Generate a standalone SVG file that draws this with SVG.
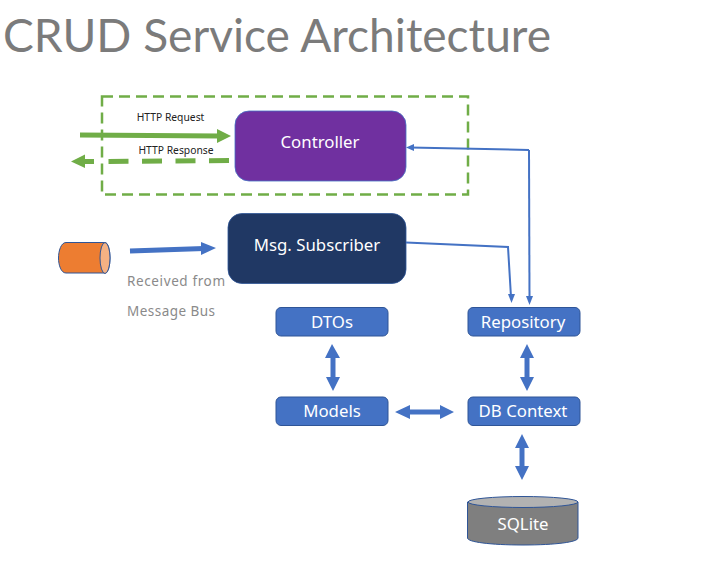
<svg xmlns="http://www.w3.org/2000/svg" width="705" height="566" viewBox="0 0 705 566">
<style>
text{font-family:"Noto Sans","Open Sans","DejaVu Sans",sans-serif}
.title{font-family:Lato,"Noto Sans",sans-serif;font-size:47px;fill:#7b7b7b}
.lbl{fill:#fff;font-size:16.800px;text-anchor:middle}
.small{fill:#222;font-size:10.300px;text-anchor:middle}
.note{fill:#8a8a8a;font-size:13.500px}
.box{fill:#4472c4;stroke:#2f5597;stroke-width:1}
.thin{fill:none;stroke:#4472c4;stroke-width:2}
.thick{fill:none;stroke:#4472c4;stroke-width:5}
.fill{fill:#4472c4}
.g{fill:#70ad47}
.gl{fill:none;stroke:#70ad47;stroke-width:5}
</style>
<rect width="705" height="566" fill="#fff"/>
<text class="title" x="3" y="52" textLength="548" lengthAdjust="spacingAndGlyphs">CRUD Service Architecture</text>
<g id="boundary"><rect x="102" y="96.500" width="366" height="98" fill="none" stroke="#70ad47" stroke-width="2.500" stroke-dasharray="11 6"/></g>
<g id="controller"><rect x="235" y="111" width="171" height="70" rx="14" fill="#7030a0" stroke="#4472c4" stroke-width="0.800"/><text class="lbl" x="320" y="147.500">Controller</text></g>
<g id="subscriber"><rect x="228" y="213.500" width="178" height="70" rx="14" fill="#203864" stroke="#2f5597" stroke-width="0.800"/><text class="lbl" x="317" y="250.500">Msg. Subscriber</text></g>
<g id="bus"><path d="M66 242.500H105C108 242.500 110 250 110 258S108 273 105 273H66C61 273 58.500 265 58.500 258S61 242.500 66 242.500Z" fill="#ed7d31" stroke="#2f5597" stroke-width="1"/><ellipse cx="105" cy="258" rx="5" ry="15.500" fill="#f4b183" stroke="#2f5597" stroke-width="1"/></g>
<g id="dtos"><rect class="box" x="276" y="307.500" width="112" height="28.500" rx="5"/><text class="lbl" x="332" y="327.500">DTOs</text></g>
<g id="repository"><rect class="box" x="468" y="307.500" width="112" height="28.500" rx="5"/><text class="lbl" x="523" y="327.500">Repository</text></g>
<g id="models"><rect class="box" x="276" y="397" width="112" height="28.500" rx="5"/><text class="lbl" x="332" y="417">Models</text></g>
<g id="dbcontext"><rect class="box" x="468" y="397" width="112" height="28.500" rx="5"/><text class="lbl" x="523" y="417">DB Context</text></g>
<g id="sqlite"><path d="M467.500 502V538C467.500 542 490 545 523 545S578 542 578 538V502Z" fill="#7f7f7f" stroke="#2f5597" stroke-width="1"/><ellipse cx="523" cy="502" rx="55" ry="5.500" fill="#b2b2b2" stroke="#2f5597" stroke-width="1"/><text class="lbl" x="523" y="530">SQLite</text></g>
<g id="connectors">
<path class="gl" d="M80 135L219 136"/><path class="g" d="M217 129L231 136L217 143Z"/>
<path class="gl" d="M229 160.500L108 161.500" stroke-dasharray="20 13.500"/>
<path class="gl" d="M94 161.500H83"/><path class="g" d="M85 154.500L71 161.500L85 168Z"/>
<path class="thin" d="M529 150L410 147.500"/><path class="fill" d="M406 147.500L414 144V151Z"/>
<path class="thin" d="M529 150L529.500 300"/><path class="fill" d="M529.500 305L526 296H533Z"/>
<path class="thin" d="M406 242.500L508 247L511 297"/><path class="fill" d="M511.500 303L508 294H515Z"/>
<path class="thick" d="M130 251L204 248.500"/><path class="fill" d="M216 248L201 242V255Z"/>
<path class="thick" d="M333 353V380"/><path class="fill" d="M332 344L340 358H325ZM333 391L340 377H326Z"/>
<path class="thick" d="M527 353V380"/><path class="fill" d="M527 344L534 358H520ZM527 391L534 377H520Z"/>
<path class="thick" d="M405 412H445"/><path class="fill" d="M395 412L410 405V419ZM454 412L440 405V419Z"/>
<path class="thick" d="M522 445V472"/><path class="fill" d="M522 434L529 448H515ZM522 480L529 466H515Z"/>
</g>
<g id="labels"><text class="small" x="170.500" y="121">HTTP Request</text><text class="small" x="176" y="153.500">HTTP Response</text><text class="note" x="127" y="286" textLength="98">Received from</text><text class="note" x="127" y="316" textLength="88">Message Bus</text></g>
</svg>
